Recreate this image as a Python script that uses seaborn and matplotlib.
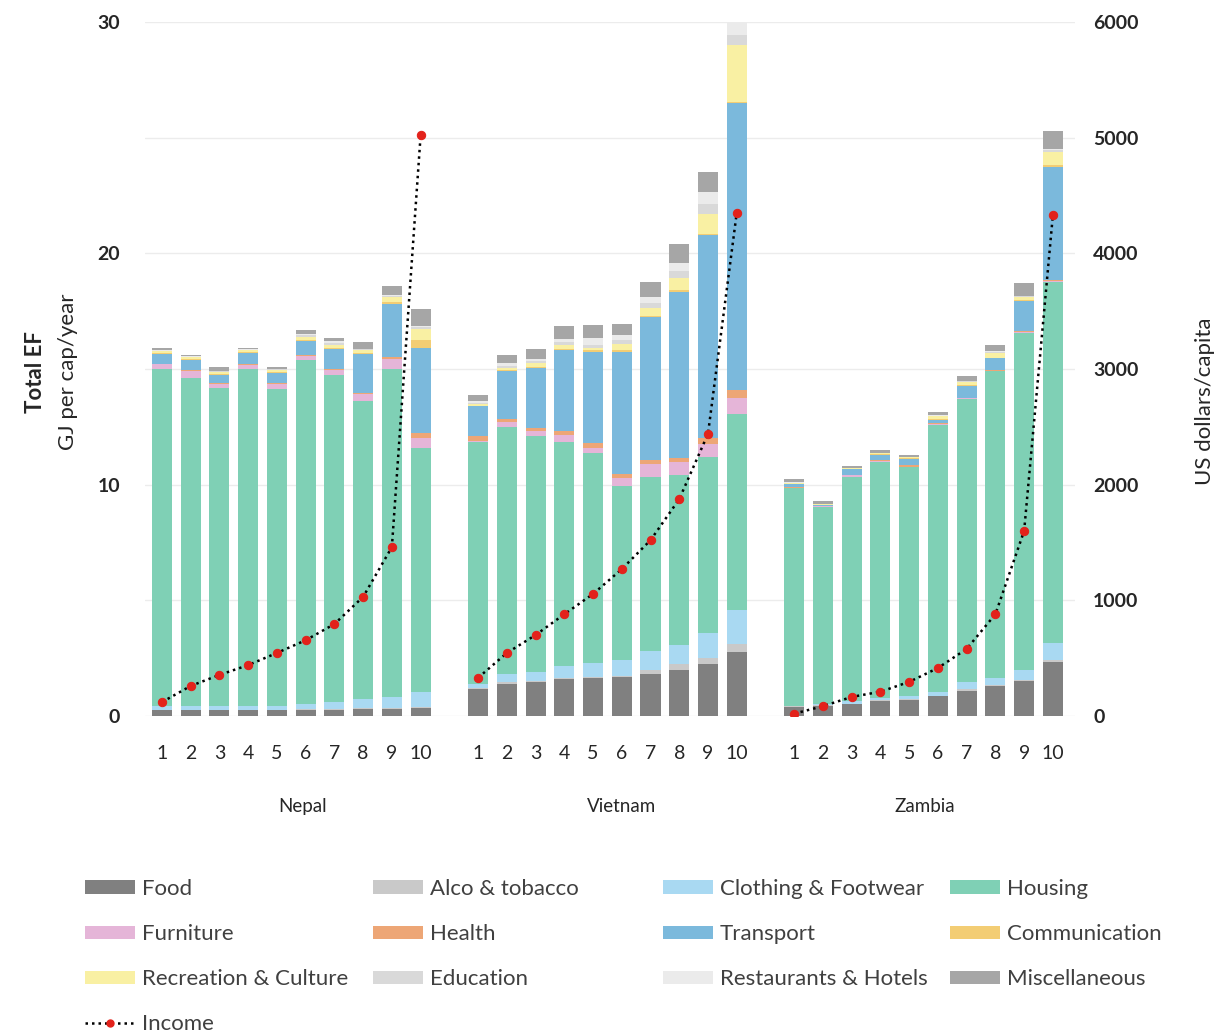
import numpy as np
import pandas as pd
import matplotlib
matplotlib.use("Agg")
import matplotlib.pyplot as plt
from matplotlib.patches import Patch
from matplotlib.lines import Line2D
from matplotlib.transforms import blended_transform_factory
import seaborn as sns

# ---------------------------------------------------------------- data
countries = ["Nepal", "Vietnam", "Zambia"]
deciles = [str(i) for i in range(1, 11)]

categories = ["Food", "Alco & tobacco", "Clothing & Footwear", "Housing",
              "Furniture", "Health", "Transport", "Communication",
              "Recreation & Culture", "Education", "Restaurants & Hotels",
              "Miscellaneous"]

# energy footprint per expenditure category, GJ per capita per year
# (Nepal deciles 1-10, Vietnam deciles 1-10, Zambia deciles 1-10)
food = [0.25, 0.25, 0.25, 0.25, 0.25, 0.28, 0.28, 0.30, 0.30, 0.35,
        1.15, 1.40, 1.45, 1.60, 1.65, 1.70, 1.80, 2.00, 2.25, 2.75,
        0.40, 0.45, 0.50, 0.65, 0.70, 0.85, 1.10, 1.30, 1.50, 2.35]
alco_tobacco = [0.02, 0.02, 0.02, 0.02, 0.02, 0.03, 0.03, 0.03, 0.04, 0.05,
                0.05, 0.05, 0.05, 0.05, 0.05, 0.05, 0.20, 0.25, 0.25, 0.35,
                0.02, 0.02, 0.02, 0.03, 0.03, 0.03, 0.05, 0.05, 0.05, 0.05]
clothing = [0.15, 0.15, 0.15, 0.18, 0.18, 0.22, 0.28, 0.40, 0.50, 0.65,
            0.20, 0.35, 0.40, 0.50, 0.60, 0.65, 0.80, 0.80, 1.10, 1.50,
            0.03, 0.05, 0.15, 0.10, 0.15, 0.15, 0.30, 0.30, 0.45, 0.75]
housing = [14.58, 14.18, 13.78, 14.55, 13.70, 14.87, 14.16, 12.87, 14.16, 10.55,
           10.45, 10.70, 10.20, 9.70, 9.05, 7.55, 7.55, 7.35, 7.60, 8.45,
           9.40, 8.53, 9.68, 10.22, 9.87, 11.57, 12.25, 13.25, 14.55, 15.60]
furniture = [0.20, 0.30, 0.15, 0.17, 0.20, 0.15, 0.20, 0.30, 0.45, 0.40,
             0.05, 0.20, 0.20, 0.30, 0.25, 0.35, 0.55, 0.60, 0.55, 0.70,
             0.02, 0.02, 0.05, 0.03, 0.03, 0.03, 0.03, 0.03, 0.05, 0.05]
health = [0.03, 0.05, 0.04, 0.04, 0.04, 0.05, 0.05, 0.05, 0.08, 0.25,
          0.20, 0.15, 0.15, 0.15, 0.20, 0.15, 0.15, 0.15, 0.25, 0.35,
          0.02, 0.02, 0.02, 0.02, 0.05, 0.03, 0.03, 0.03, 0.03, 0.05]
transport = [0.42, 0.45, 0.35, 0.50, 0.45, 0.60, 0.85, 1.70, 2.30, 3.65,
             1.30, 2.05, 2.60, 3.50, 3.95, 5.30, 6.20, 7.20, 8.80, 12.40,
             0.12, 0.03, 0.25, 0.25, 0.28, 0.15, 0.50, 0.50, 1.30, 4.90]
communication = [0.03, 0.03, 0.03, 0.03, 0.03, 0.05, 0.05, 0.05, 0.07, 0.35,
                 0.02, 0.05, 0.05, 0.05, 0.05, 0.05, 0.05, 0.05, 0.05, 0.05,
                 0.02, 0.01, 0.02, 0.02, 0.05, 0.05, 0.03, 0.03, 0.05, 0.05]
recreation = [0.08, 0.08, 0.10, 0.08, 0.08, 0.15, 0.12, 0.12, 0.20, 0.50,
              0.05, 0.10, 0.15, 0.20, 0.10, 0.30, 0.35, 0.55, 0.85, 2.45,
              0.03, 0.02, 0.03, 0.03, 0.02, 0.10, 0.15, 0.20, 0.15, 0.60]
education = [0.02, 0.02, 0.03, 0.02, 0.03, 0.05, 0.10, 0.03, 0.05, 0.05,
             0.05, 0.10, 0.10, 0.10, 0.15, 0.15, 0.20, 0.30, 0.45, 0.45,
             0.02, 0.01, 0.01, 0.01, 0.01, 0.02, 0.02, 0.05, 0.02, 0.05]
restaurants = [0.02, 0.02, 0.03, 0.02, 0.02, 0.05, 0.08, 0.03, 0.05, 0.05,
               0.10, 0.10, 0.10, 0.15, 0.30, 0.20, 0.25, 0.35, 0.50, 0.55,
               0.02, 0.01, 0.01, 0.01, 0.01, 0.02, 0.02, 0.05, 0.02, 0.05]
miscellaneous = [0.10, 0.05, 0.15, 0.05, 0.10, 0.20, 0.15, 0.27, 0.40, 0.75,
                 0.25, 0.35, 0.40, 0.55, 0.55, 0.50, 0.65, 0.80, 0.85, 0.60,
                 0.15, 0.12, 0.08, 0.12, 0.08, 0.15, 0.20, 0.25, 0.55, 0.80]

# mean income per decile, US dollars per capita
income_nepal = [120, 260, 355, 440, 545, 655, 795, 1030, 1460, 5020]
income_vietnam = [330, 545, 700, 880, 1055, 1270, 1520, 1875, 2440, 4350]
income_zambia = [20, 85, 165, 210, 295, 415, 580, 880, 1600, 4330]

colors = ["#808080", "#c9c9c9", "#a9d9f2", "#7fd0b5",
          "#e5b5d8", "#eda676", "#7bb9dc", "#f3cd74",
          "#f9f0a3", "#d9d9d9", "#ebebeb", "#a6a6a6"]

# ---------------------------------------------------------------- style
sns.set_theme(style="white")
plt.rcParams["font.family"] = ["Lato", "DejaVu Sans"]
text_col = "#262626"

layers = np.array([food, alco_tobacco, clothing, housing, furniture, health,
                   transport, communication, recreation, education,
                   restaurants, miscellaneous])
tops = np.cumsum(layers, axis=0)

# ten decile slots per country, one empty slot between countries
positions = np.concatenate([np.arange(10) + 11 * k for k in range(3)])

fig = plt.figure(figsize=(12.2, 10.32), dpi=100)
ax = fig.add_axes([145 / 1220, 1 - 716 / 1032, 930 / 1220, 694 / 1032])

# light horizontal guides every 1000 $ (= 5 GJ)
for gy in np.arange(0, 31, 5):
    ax.axhline(gy, color="#ececec", lw=1.0, zorder=0)

# stacked bars: draw cumulative totals from the top layer down
for i in reversed(range(len(categories))):
    df = pd.DataFrame({"pos": positions, "top": tops[i]})
    sns.barplot(data=df, x="pos", y="top", native_scale=True,
                color=colors[i], saturation=1, width=0.7, errorbar=None,
                linewidth=0, ax=ax, zorder=2)

ax.set_xlim(-0.59, 31.77)
ax.set_ylim(0, 30)
ax.set_yticks([0, 10, 20, 30])
ax.set_yticklabels(["0", "10", "20", "30"], fontsize=14, fontweight="bold",
                   color=text_col)
ax.set_xticks(positions)
ax.set_xticklabels(deciles * 3, fontsize=14, color=text_col)
ax.tick_params(axis="x", length=0, pad=21)
ax.tick_params(axis="y", length=0, pad=18)
ax.set_xlabel("")
ax.set_ylabel("")
for s in ax.spines.values():
    s.set_visible(False)

# income line on secondary axis
ax2 = ax.twinx()
for k, inc in enumerate([income_nepal, income_vietnam, income_zambia]):
    sns.lineplot(x=positions[10 * k:10 * (k + 1)], y=inc, ax=ax2,
                 color="black", linestyle=(0, (1, 1.6)), linewidth=1.8,
                 marker="o", markersize=6, markerfacecolor="#e3221b",
                 markeredgecolor="#e3221b", zorder=5)
ax2.set_ylim(0, 6000)
ax2.set_yticks(np.arange(0, 6001, 1000))
ax2.set_yticklabels([str(v) for v in range(0, 6001, 1000)], fontsize=14,
                    fontweight="bold", color=text_col)
ax2.tick_params(axis="y", length=0, pad=13)
ax2.set_ylabel("")
ax2.grid(False)
for s in ax2.spines.values():
    s.set_visible(False)

# country names under each group of deciles
trans = blended_transform_factory(ax.transData, ax.transAxes)
for name, cx in zip(countries, [4.9, 16.0, 26.55]):
    ax.text(cx, -0.13, name, transform=trans, ha="center", va="center",
            fontsize=13.5, color=text_col)

# axis titles
fig.text(35 / 1220, 1 - 372 / 1032, "Total EF", rotation=90, ha="center",
         va="center", fontsize=16, fontweight="bold", color=text_col)
fig.text(68 / 1220, 1 - 372 / 1032, "GJ per cap/year", rotation=90,
         ha="center", va="center", fontsize=16, color=text_col)
fig.text(1205 / 1220, 1 - 401 / 1032, "US dollars/capita", rotation=90,
         ha="center", va="center", fontsize=16, color=text_col)

# legend laid out in four evenly spaced columns
patches = {c: Patch(facecolor=col, edgecolor="none")
           for c, col in zip(categories, colors)}
income_handle = Line2D([], [], color="black", linestyle=(0, (1, 1.6)),
                       linewidth=1.8, marker="o", markersize=5,
                       markerfacecolor="#e3221b", markeredgecolor="#e3221b")
columns = [
    (["Food", "Furniture", "Recreation & Culture"], 85),
    (["Alco & tobacco", "Health", "Education"], 373),
    (["Clothing & Footwear", "Transport", "Restaurants & Hotels"], 663),
    (["Housing", "Communication", "Miscellaneous"], 950),
]
for j, (names, x0) in enumerate(columns):
    handles = [patches[n] for n in names]
    labels = list(names)
    if j == 0:
        handles.append(income_handle)
        labels.append("Income")
    fig.legend(handles, labels, loc="upper left",
               bbox_to_anchor=(x0 / 1220, 1 - 879 / 1032), frameon=False,
               borderpad=0, borderaxespad=0, handlelength=2.25,
               handleheight=0.55, handletextpad=0.3, labelspacing=1.13,
               fontsize=16, labelcolor="#404040")

fig.savefig("out.png", dpi=100, facecolor="white")
